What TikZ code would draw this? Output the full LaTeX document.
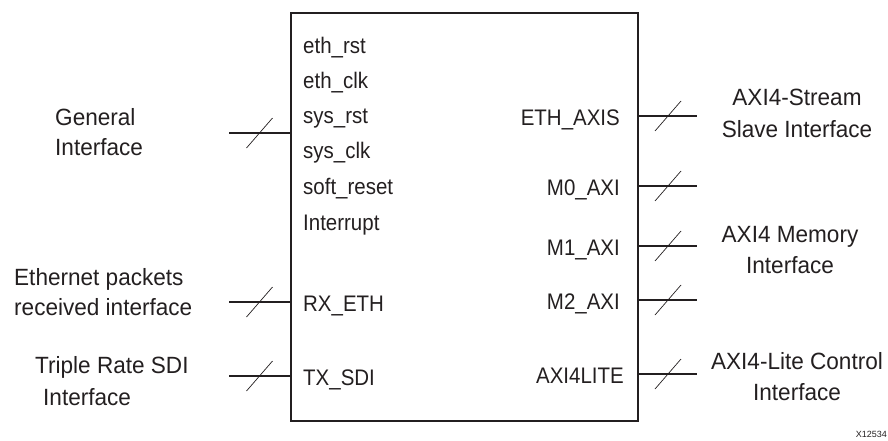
\documentclass[tikz,border=0pt]{standalone}
\usepackage{fontspec}
\setmainfont{Liberation Sans}
\newfontfamily\pinfont{Liberation Sans}[FakeStretch=0.91]
\newfontfamily\extfont{Liberation Sans}[FakeStretch=0.96]
\usetikzlibrary{calc}
\definecolor{ink}{HTML}{231F20}
\tikzset{
  pinlbl/.style={inner sep=0pt, font=\pinfont\fontsize{22.5}{26}\selectfont, text=ink},
  extlbl/.style={inner sep=0pt, font=\extfont\fontsize{23.5}{27}\selectfont, text=ink},
  wire/.style={line width=1.6pt, draw=ink},
  busmark/.style={line width=0.7pt, draw=ink},
  blockbox/.style={draw=ink, line width=2pt, inner sep=0pt}
}
\newcommand{\busslash}[2]{\draw[busmark] ($(#1)!0.5!(#2)+(-13,15)$) -- ($(#1)!0.5!(#2)+(13,-15)$);}
\begin{document}
\begin{tikzpicture}[x=1pt,y=-1pt]
\useasboundingbox (0,0) rectangle (888,440);
% main block
\node[blockbox, minimum width=347pt, minimum height=408pt, anchor=north west] (blk) at (290,12) {};
% inside pin labels (left)
\node[pinlbl, anchor=base west] (ethrst) at (303,53) {eth\_rst};
\node[pinlbl, anchor=base west] (ethclk) at (303,88) {eth\_clk};
\node[pinlbl, anchor=base west] (sysrst) at (303,123) {sys\_rst};
\node[pinlbl, anchor=base west] (sysclk) at (303,158) {sys\_clk};
\node[pinlbl, anchor=base west] (softrst) at (303,194) {soft\_reset};
\node[pinlbl, anchor=base west] (intr) at (303,230) {Interrupt};
\node[pinlbl, anchor=base west] (rxeth) at (303,311) {RX\_ETH};
\node[pinlbl, anchor=base west] (txsdi) at (303,385) {TX\_SDI};
% inside pin labels (right)
\node[pinlbl, anchor=base east] (ethaxis) at (620,125) {ETH\_AXIS};
\node[pinlbl, anchor=base east] (mzero) at (620,195) {M0\_AXI};
\node[pinlbl, anchor=base east] (mone) at (620,255) {M1\_AXI};
\node[pinlbl, anchor=base east] (mtwo) at (620,309) {M2\_AXI};
\node[pinlbl, anchor=base east] (axilite) at (624,383) {AXI4LITE};
% left external labels
\node[extlbl, anchor=base west] (gen1) at (55,125) {General};
\node[extlbl, anchor=base west] (gen2) at (55,155) {Interface};
\node[extlbl, anchor=base west] (eth1) at (14,285) {Ethernet packets};
\node[extlbl, anchor=base west] (eth2) at (14,315) {received interface};
\node[extlbl, anchor=base west] (sdi1) at (35,373) {Triple Rate SDI};
\node[extlbl, anchor=base west] (sdi2) at (43,405) {Interface};
% right external labels
\node[extlbl, anchor=base] (str1) at (797,105) {AXI4-Stream};
\node[extlbl, anchor=base] (str2) at (797,137) {Slave Interface};
\node[extlbl, anchor=base] (mem1) at (790,242) {AXI4 Memory};
\node[extlbl, anchor=base] (mem2) at (790,273) {Interface};
\node[extlbl, anchor=base] (lite1) at (797,369) {AXI4-Lite Control};
\node[extlbl, anchor=base] (lite2) at (797,400) {Interface};
\node[inner sep=0pt, anchor=base east, text=ink, font=\fontsize{9}{11}\selectfont] (xnum) at (887,437) {X12534};
% connector end points
\coordinate (gA) at (229,133);
\coordinate (rA) at (229,302);
\coordinate (tA) at (229,376);
\coordinate (eA) at (697,116);
\coordinate (m0A) at (697,186);
\coordinate (m1A) at (697,246);
\coordinate (m2A) at (697,300);
\coordinate (lA) at (697,374);
\coordinate (gB) at (gA -| blk.west);
\coordinate (rB) at (rA -| blk.west);
\coordinate (tB) at (tA -| blk.west);
\coordinate (eB) at (eA -| blk.east);
\coordinate (m0B) at (m0A -| blk.east);
\coordinate (m1B) at (m1A -| blk.east);
\coordinate (m2B) at (m2A -| blk.east);
\coordinate (lB) at (lA -| blk.east);
% connectors
\draw[wire] (gA) -- (gB);
\draw[wire] (rA) -- (rB);
\draw[wire] (tA) -- (tB);
\draw[wire] (eB) -- (eA);
\draw[wire] (m0B) -- (m0A);
\draw[wire] (m1B) -- (m1A);
\draw[wire] (m2B) -- (m2A);
\draw[wire] (lB) -- (lA);
% bus slashes
\busslash{gA}{gB}
\busslash{rA}{rB}
\busslash{tA}{tB}
\busslash{eA}{eB}
\busslash{m0A}{m0B}
\busslash{m1A}{m1B}
\busslash{m2A}{m2B}
\busslash{lA}{lB}
\end{tikzpicture}
\end{document}
